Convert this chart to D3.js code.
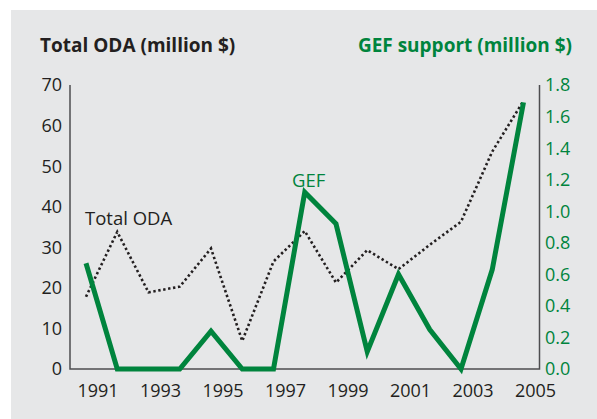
<!DOCTYPE html>
<html><head><meta charset="utf-8">
<script src="https://cdn.jsdelivr.net/npm/d3@7"></script>
<style>html,body{margin:0;padding:0;background:#fff;}svg{display:block;}</style>
</head><body>
<script>
const years = [1991,1992,1993,1994,1995,1996,1997,1998,1999,2000,2001,2002,2003,2004,2005];
const odaValues = [17.8,33.8,18.9,20.3,29.7,6.9,26.5,34.0,21.3,29.3,24.6,30.6,36.3,53.6,66.1];
const gefValues = [0.67,0,0,0,0.24,0,0,1.12,0.92,0.11,0.60,0.25,0,0.63,1.69];
const leftTicks = [0,10,20,30,40,50,60,70];
const rightTicks = [0,0.2,0.4,0.6,0.8,1.0,1.2,1.4,1.6,1.8];
const yearLabels = [1991,1993,1995,1997,1999,2001,2003,2005];

const W = 597, H = 419;
const green = "#00843d", dark = "#231f20";
const font = "'Open Sans', sans-serif";

const svg = d3.select("body").append("svg").attr("width", W).attr("height", H);
svg.append("rect").attr("x",11).attr("y",10).attr("width",W-11).attr("height",H-10).attr("fill","#e6e7e8");

const x = d3.scaleLinear().domain([1991,2005]).range([86,523.5]);
const yL = d3.scaleLinear().domain([0,70]).range([369,85]);
const yR = d3.scaleLinear().domain([0,1.8]).range([369,85]);
const axL = 70, axR = 539.5;

// axes lines
svg.append("path").attr("d",`M${axL},${yL(70)}V${yL(0)}H${axR}V${yR(1.8)}`)
  .attr("fill","none").attr("stroke","#4d4d4f").attr("stroke-width",1.5);

// left tick labels
svg.append("g").selectAll("text").data(leftTicks).join("text")
  .attr("x",62).attr("y",d=>yL(d)).attr("dy","0.36em").attr("text-anchor","end")
  .attr("font-family",font).attr("font-size",18).attr("fill",dark).text(d=>d);
// right tick labels
svg.append("g").selectAll("text").data(rightTicks).join("text")
  .attr("x",545).attr("y",d=>yR(d)).attr("dy","0.36em").attr("text-anchor","start")
  .attr("font-family",font).attr("font-size",18).attr("fill",green).text(d=>d3.format(".1f")(d));
// year labels
svg.append("g").selectAll("text").data(yearLabels).join("text")
  .attr("x",d=>x(d)+12).attr("y",397).attr("text-anchor","middle")
  .attr("font-family",font).attr("font-size",18).attr("fill",dark).text(d=>d);

// titles
svg.append("text").attr("x",40).attr("y",52).attr("font-family",font).attr("font-weight","bold")
  .attr("font-size",19).attr("fill",dark).text("Total ODA (million $)");
svg.append("text").attr("x",572).attr("y",52).attr("text-anchor","end").attr("font-family",font).attr("font-weight","bold")
  .attr("font-size",19).attr("fill",green).text("GEF support (million $)");

// lines
const odaLine = d3.line().x((d,i)=>x(years[i])).y(d=>yL(d));
const gefLine = d3.line().x((d,i)=>x(years[i])).y(d=>yR(d));
svg.append("path").attr("d",odaLine(odaValues)).attr("fill","none").attr("stroke",dark)
  .attr("stroke-width",2.6).attr("stroke-dasharray","2.4,2.6");
svg.append("path").attr("d",gefLine(gefValues)).attr("fill","none").attr("stroke",green)
  .attr("stroke-width",5).attr("stroke-linejoin","miter");

// series labels
svg.append("text").attr("x",85).attr("y",225).attr("font-family",font).attr("font-size",18.5)
  .attr("fill",dark).text("Total ODA");
svg.append("text").attr("x",292).attr("y",187).attr("font-family",font).attr("font-size",18.5)
  .attr("fill",green).text("GEF");
</script>
</body></html>
